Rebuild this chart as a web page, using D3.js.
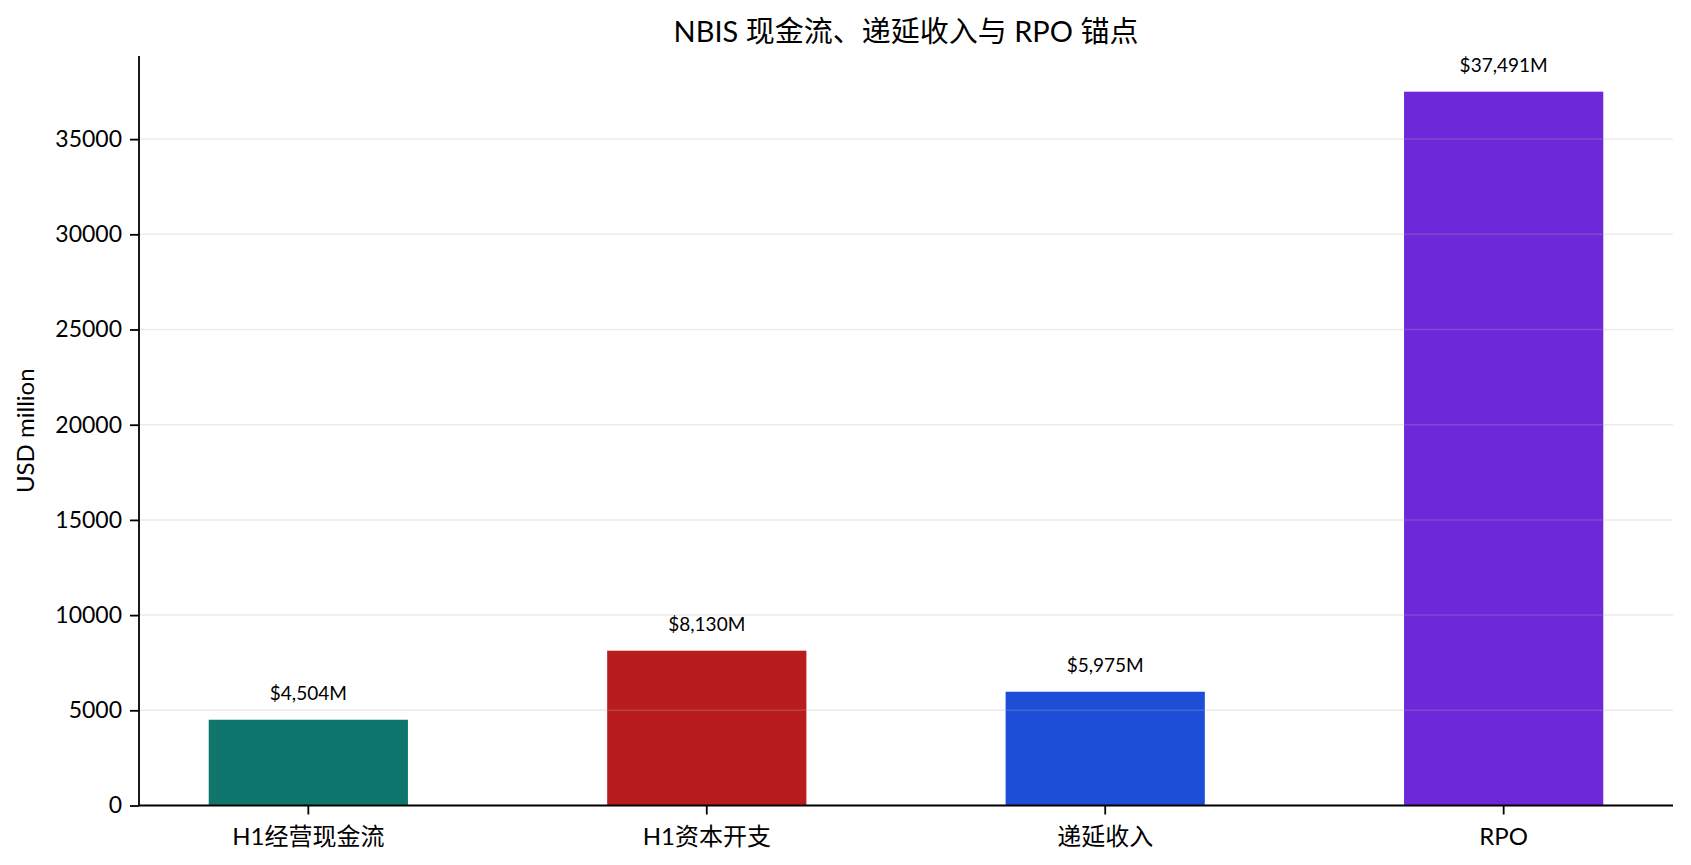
<!DOCTYPE html>
<html>
<head>
<meta charset="utf-8">
<script src="https://cdn.jsdelivr.net/npm/d3@7"></script>
<style>
  body { margin: 0; background: #fff; }
  svg text { font-family: "Lato", "Noto Sans CJK SC", sans-serif; fill: #000; }
</style>
</head>
<body>
<div id="chart"></div>
<script>
const categories = ["H1经营现金流", "H1资本开支", "递延收入", "RPO"];
const values = [4504, 8130, 5975, 37491];
const barColors = ["#0f766e", "#b91c1c", "#1d4ed8", "#6d28d9"];
const yTicks = [0, 5000, 10000, 15000, 20000, 25000, 30000, 35000];

const width = 1691;
const height = 865;
const margin = { top: 56, right: 18, bottom: 59.5, left: 139 };

const svg = d3.select("#chart")
    .append("svg")
    .attr("width", width)
    .attr("height", height);

const x = d3.scaleBand()
    .domain(categories)
    .range([margin.left, width - margin.right])
    .paddingInner(0.5)
    .paddingOuter(0.175);

const y = d3.scaleLinear()
    .domain([0, d3.max(values) * 1.05])
    .range([height - margin.bottom, margin.top]);

// bars
svg.append("g")
    .selectAll("rect")
    .data(values)
    .enter()
    .append("rect")
    .attr("x", (d, i) => x(categories[i]))
    .attr("y", d => y(d))
    .attr("width", x.bandwidth())
    .attr("height", d => y(0) - y(d))
    .attr("fill", (d, i) => barColors[i]);

// grid sits above the bars, faint
svg.append("g")
    .selectAll("line")
    .data(yTicks)
    .enter()
    .append("line")
    .attr("x1", margin.left)
    .attr("x2", width - margin.right)
    .attr("y1", d => y(d))
    .attr("y2", d => y(d))
    .attr("stroke", "#b0b0b0")
    .attr("stroke-opacity", 0.25)
    .attr("stroke-width", 1.5);

// value labels
svg.append("g")
    .selectAll("text")
    .data(values)
    .enter()
    .append("text")
    .attr("x", (d, i) => x(categories[i]) + x.bandwidth() / 2)
    .attr("y", d => y(d) - 20)
    .attr("text-anchor", "middle")
    .attr("font-size", "19px")
    .text(d => `$${d3.format(",")(d)}M`);

// axes
const yAxis = d3.axisLeft(y)
    .tickValues(yTicks)
    .tickSize(9)
    .tickPadding(8)
    .tickFormat(d3.format("d"));

const gy = svg.append("g")
    .attr("transform", `translate(${margin.left},0)`)
    .call(yAxis);
gy.select(".domain").attr("stroke", "#000").attr("stroke-width", 1.8);
gy.selectAll(".tick line").attr("stroke", "#000").attr("stroke-width", 1.8);
gy.selectAll(".tick text").attr("font-size", "23px").attr("font-family", null);

const xAxis = d3.axisBottom(x)
    .tickSize(9)
    .tickPadding(13);

const gx = svg.append("g")
    .attr("transform", `translate(0,${y(0)})`)
    .call(xAxis);
gx.select(".domain").attr("stroke", "#000").attr("stroke-width", 1.8);
gx.selectAll(".tick line").attr("stroke", "#000").attr("stroke-width", 1.8);
gx.selectAll(".tick text").attr("font-size", "24px").attr("font-family", null);

// remove outer ticks of domain path
gy.select(".domain").attr("d", `M0,${y.range()[0]}V${y.range()[1]}`);
gx.select(".domain").attr("d", `M${x.range()[0]},0H${x.range()[1]}`);

// y label
svg.append("text")
    .attr("transform", `translate(34,${(margin.top + height - margin.bottom) / 2}) rotate(-90)`)
    .attr("text-anchor", "middle")
    .attr("font-size", "24px")
    .text("USD million");

// title
svg.append("text")
    .attr("x", (margin.left + width - margin.right) / 2)
    .attr("y", 42)
    .attr("text-anchor", "middle")
    .attr("font-size", "29px")
    .text("NBIS 现金流、递延收入与 RPO 锚点");
</script>
</body>
</html>
